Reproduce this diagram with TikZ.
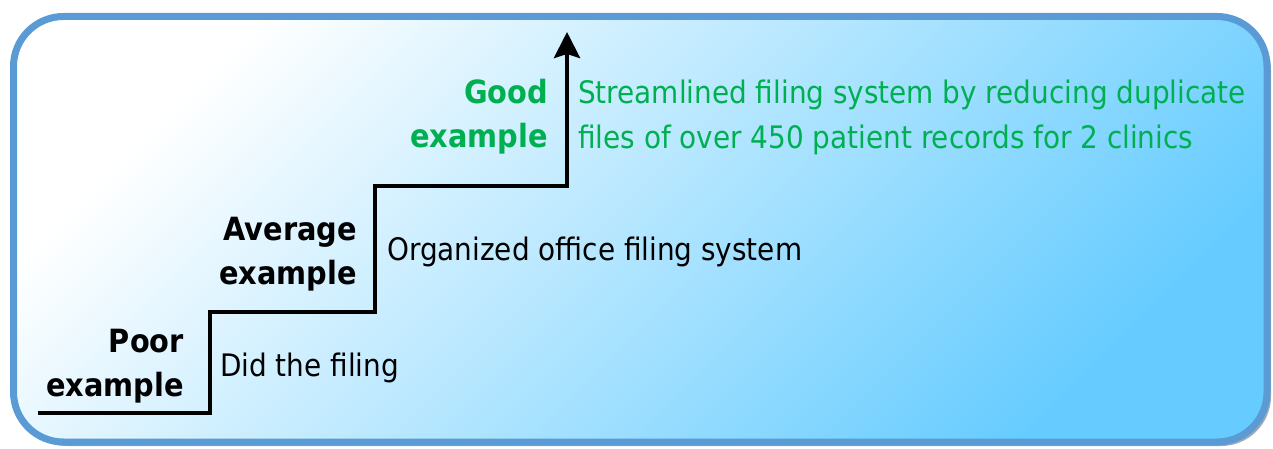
\documentclass[tikz,border=0pt]{standalone}
\usepackage{fontspec}
\setmainfont{DejaVu Sans Condensed}
\usetikzlibrary{arrows.meta}
\definecolor{frameblue}{HTML}{5B9BD5}
\definecolor{skyblue}{HTML}{66CCFF}
\definecolor{goodgreen}{HTML}{00B050}
\definecolor{shadowgray}{HTML}{9DA9B5}
\tikzset{
	rung/.style={font=\fontsize{32}{44}\selectfont\bfseries, align=right, anchor=east, inner sep=0pt},
	remark/.style={font=\fontsize{31}{45}\selectfont, align=left, anchor=west, inner sep=0pt}
}

\begin{document}
\begin{tikzpicture}[x=1pt,y=-1pt]
	\useasboundingbox (0,0) rectangle (1273,449);
	
	%frame
	\fill[shadowgray, rounded corners=50] (17,20) rectangle (1271,446);
	\shadedraw[rounded corners=50, top color=white, middle color=skyblue!42!white, bottom color=skyblue, shading angle=45, draw=frameblue, line width=7] (13.5,16.5) rectangle (1267,442);
	
	%stairs
	\coordinate (s0) at (38,413);
	\coordinate (s1) at (210,312);
	\coordinate (s2) at (375,186);
	\coordinate (top) at (567,32);
	\draw[line width=4.5, -{Stealth[length=26, width=26, inset=4]}] (s0) -| (s1) -| (s2) -| (top);
	
	%labels
	\node[rung] (poor) at (184,366) {Poor\\example};
	\node[remark] (did) at (220,368) {Did the filing};
	%
	\node[rung] (avg) at (357,254) {Average\\example};
	\node[remark] (org) at (387,252) {Organized office filing system};
	%
	\node[rung, goodgreen] (good) at (548,117) {Good\\example};
	\node[remark, goodgreen] (stream) at (578,117) {Streamlined filing system by reducing duplicate\\files of over 450 patient records for 2 clinics};
\end{tikzpicture}
\end{document}
